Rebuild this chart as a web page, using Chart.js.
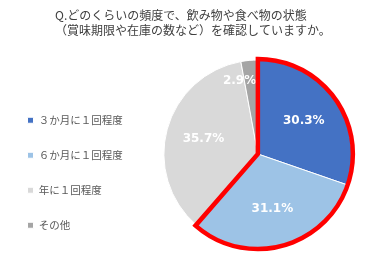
<!DOCTYPE html>
<html>
<head>
<meta charset="utf-8">
<script src="https://cdn.jsdelivr.net/npm/chart.js@4"></script>
<style>
  html, body { margin: 0; padding: 0; background: #ffffff; }
  #wrap { width: 384px; height: 256px; }
</style>
</head>
<body>
<div id="wrap"><canvas id="freqChart"></canvas></div>
<script>
// 飲み物や食べ物の状態を確認する頻度
const categories = ['３か月に１回程度', '６か月に１回程度', '年に１回程度', 'その他'];
const shares = [30.3, 31.1, 35.7, 2.9];
const sliceColors = ['#4472c4', '#9dc3e6', '#d9d9d9', '#a5a5a5'];
const titleLines = ['Q.どのくらいの頻度で、飲み物や食べ物の状態', '（賞味期限や在庫の数など）を確認していますか。'];
const highlighted = [0, 1]; // 赤枠で囲む項目

const FONT = '"Noto Sans CJK JP", "Noto Sans", sans-serif';

// タイトル（左寄せ2行）
const leftTitle = {
    id: 'leftTitle',
    afterDraw(chart) {
        const ctx = chart.ctx;
        ctx.save();
        ctx.font = '12px ' + FONT;
        ctx.fillStyle = '#404040';
        ctx.textAlign = 'left';
        ctx.textBaseline = 'middle';
        titleLines.forEach(function(line, i) {
            ctx.fillText(line, 55, 15 + i * 15);
        });
        ctx.restore();
    }
};

// 各スライスにパーセント表示（小さいスライスは左側に寄せる）
const sliceLabels = {
    id: 'sliceLabels',
    afterDatasetsDraw(chart) {
        const ctx = chart.ctx;
        const meta = chart.getDatasetMeta(0);
        ctx.save();
        ctx.font = 'bold 12px "DejaVu Sans", sans-serif';
        ctx.fillStyle = '#ffffff';
        ctx.textBaseline = 'middle';
        meta.data.forEach(function(arc, i) {
            const p = arc.getProps(['x', 'y', 'startAngle', 'endAngle', 'outerRadius'], true);
            const mid = (p.startAngle + p.endAngle) / 2;
            const small = shares[i] < 5;
            const r = p.outerRadius * (small ? 0.78 : 0.6);
            const x = p.x + Math.cos(mid) * r;
            const y = p.y + Math.sin(mid) * r;
            ctx.textAlign = small ? 'right' : 'center';
            ctx.fillText(shares[i].toFixed(1) + '%', small ? x + 5 : x, y);
        });
        ctx.restore();
    }
};

// 上位2項目を赤い枠で囲む
const redOutline = {
    id: 'redOutline',
    afterDatasetsDraw(chart) {
        const ctx = chart.ctx;
        const meta = chart.getDatasetMeta(0);
        const first = meta.data[highlighted[0]].getProps(['x', 'y', 'startAngle', 'outerRadius'], true);
        const last = meta.data[highlighted[highlighted.length - 1]].getProps(['endAngle'], true);
        ctx.save();
        ctx.beginPath();
        ctx.moveTo(first.x, first.y);
        ctx.arc(first.x, first.y, first.outerRadius + 1, first.startAngle, last.endAngle);
        ctx.closePath();
        ctx.lineWidth = 4.5;
        ctx.lineJoin = 'miter';
        ctx.strokeStyle = '#ff0000';
        ctx.stroke();
        ctx.restore();
    }
};

new Chart(document.getElementById('freqChart'), {
    type: 'pie',
    data: {
        labels: categories,
        datasets: [{
            data: shares,
            backgroundColor: sliceColors,
            borderColor: '#ffffff',
            borderWidth: 1
        }]
    },
    options: {
        responsive: true,
        maintainAspectRatio: false,
        animation: false,
        radius: 94,
        layout: {
            padding: { left: 3, right: 1, top: 53, bottom: 1 }
        },
        plugins: {
            title: { display: false },
            legend: {
                position: 'left',
                align: 'end',
                labels: {
                    boxWidth: 6,
                    boxHeight: 6,
                    padding: 24.5,
                    color: '#595959',
                    font: { family: FONT, size: 10.5 }
                }
            },
            tooltip: { enabled: false }
        }
    },
    plugins: [sliceLabels, redOutline, leftTitle]
});
</script>
</body>
</html>
